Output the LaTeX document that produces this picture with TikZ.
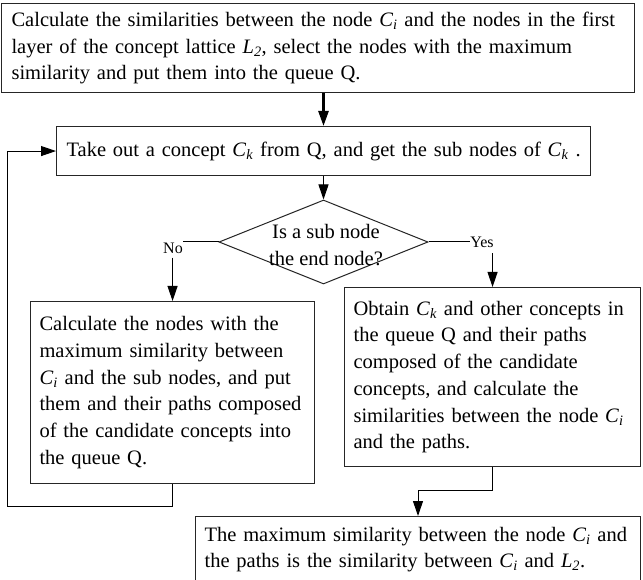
\documentclass[tikz,border=0pt]{standalone}
\usepackage{fontspec}
\setmainfont{Liberation Serif}
\usetikzlibrary{arrows.meta,shapes.geometric}
\newcommand\mainsize{\fontsize{20.5}{26.7}\selectfont}
\newcommand\Ci{\textit{C}\textsubscript{\textit{i}}}
\newcommand\Ck{\textit{C}\textsubscript{\textit{k}}}
\newcommand\Lt{\textit{L}\textsubscript{\textit{2}}}
\begin{document}
\begin{tikzpicture}[x=1pt,y=-1pt,
  box/.style={draw=black!85, line width=1.1pt, anchor=north west, align=left,
    inner xsep=9pt, inner ysep=0pt, font=\mainsize},
  arr/.style={-{Triangle[length=15pt,width=10pt]}, line width=1pt},
  lbl/.style={font=\fontsize{16}{18}\selectfont, inner sep=0pt}]
\clip (0,0) rectangle (643,580);
\fill[white] (0,0) rectangle (643,580);

\node[box, text width=613pt, minimum height=89pt, inner xsep=10pt] (b1) at (1,3)
 {Calculate the similarities between the node \Ci{} and the nodes in the first\\
  layer of the concept lattice \Lt, select the nodes with the maximum\\
  similarity and put them into the queue Q.};

\node[box, text width=514pt, minimum height=49pt, inner xsep=10pt] (b2) at (56,126)
 {\mbox{Take out a concept \Ck{} from Q, and get the sub nodes of \Ck{} .}};

\node[diamond, draw=black!85, line width=1pt, minimum width=209pt, minimum height=84pt,
  inner sep=0pt] (d) at (323.5,242) {};
\node[font=\mainsize, align=center, inner sep=0pt] (dt) at (326,245)
 {Is a sub node\\the end node?};

\node[lbl] (no) at (173,248) {No};
\node[lbl] (yes) at (482,242.5) {Yes};

\node[box, text width=266pt, minimum height=182pt] (b3) at (30,301)
 {Calculate the nodes with the\\
  maximum similarity between\\
  \Ci{} and the sub nodes, and put\\
  them and their paths composed\\
  of the candidate concepts into\\
  the queue Q.};

\node[box, text width=278pt, minimum height=179pt] (b4) at (344,287)
 {Obtain \Ck{} and other concepts in\\
  the queue Q and their paths\\
  composed of the candidate\\
  concepts, and calculate the\\
  similarities between the node \Ci\\
  and the paths.};

\node[box, text width=427pt, minimum height=66pt] (b5) at (195,516)
 {The maximum similarity between the node \Ci{} and\\
  the paths is the similarity between \Ci{} and \Lt.};

% connectors
\draw[arr, line width=2.5pt] (d.north |- b1.south) -- (d.north |- b2.north);
\draw[arr] (d.north |- b2.south) -- (d.north);
\draw[line width=1pt] (d.west) -- (d.west -| no.east);
\draw[line width=1pt] (d.east) -- (d.east -| yes.west);
\draw[arr] ([yshift=-4pt]b3.north |- no.south) -- (b3.north);
\draw[arr] ([yshift=-5pt]b4.north |- yes.south) -- (b4.north);
\coordinate (loopc) at (7,506);
\draw[arr] (b3.south) |- (loopc) |- (b2.west);
\coordinate (join) at (418,490);
\draw[arr] (b4.south) |- (join) -- (join |- b5.north);
\end{tikzpicture}
\end{document}
